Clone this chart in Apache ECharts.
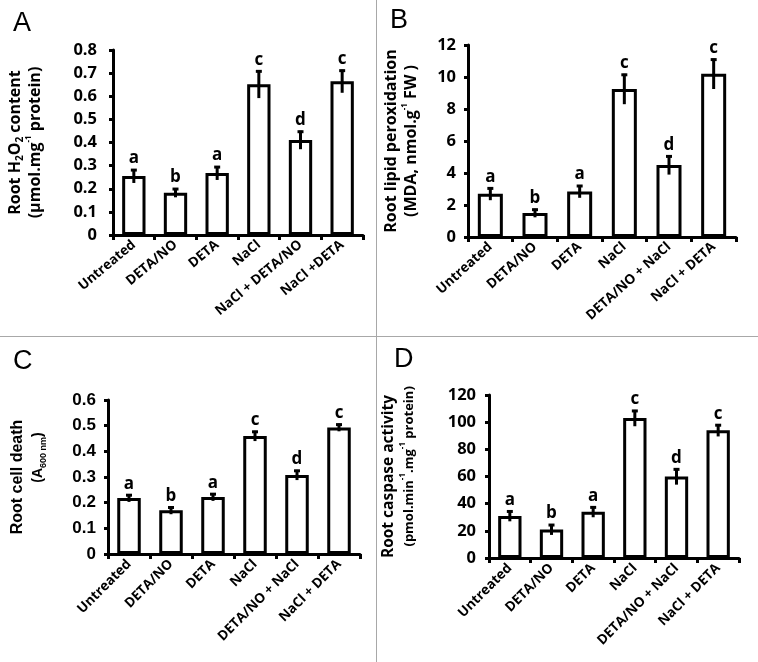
<!DOCTYPE html>
<html><head><meta charset="utf-8">
<script src="https://cdn.jsdelivr.net/npm/echarts@6/dist/echarts.min.js"></script>
<style>html,body{margin:0;padding:0;background:#fff}#c{width:758px;height:662px}</style>
</head><body><div id="c"></div>
<script>
const catsA = ['Untreated','DETA/NO','DETA','NaCl','NaCl + DETA/NO','NaCl +DETA'];
const catsB = ['Untreated','DETA/NO','DETA','NaCl','DETA/NO + NaCl','NaCl + DETA'];
const catsC = ['Untreated','DETA/NO','DETA','NaCl','DETA/NO + NaCl','NaCl + DETA'];
const catsD = ['Untreated','DETA/NO','DETA','NaCl','DETA/NO + NaCl','NaCl + DETA'];
const valA = [0.255, 0.183, 0.268, 0.652, 0.411, 0.665];
const errA = [0.03, 0.02, 0.03, 0.06, 0.04, 0.05];
const valB = [2.7, 1.5, 2.85, 9.25, 4.5, 10.2];
const errB = [0.4, 0.27, 0.4, 0.95, 0.6, 0.95];
const valC = [0.218, 0.17, 0.222, 0.46, 0.308, 0.493];
const errC = [0.015, 0.015, 0.015, 0.02, 0.02, 0.015];
const valD = [31, 21, 34, 103, 60, 94];
const errD = [4, 4, 4, 6, 6, 4.5];
const letters = ['a','b','a','c','d','c'];
const yA = {max:0.8, interval:0.1};
const yB = {max:12, interval:2};
const yC = {max:0.6, interval:0.1};
const yD = {max:120, interval:20};

const FONT = '"Open Sans", "Noto Sans", sans-serif';
const ARIAL = '"Liberation Sans", Arial, sans-serif';
const chart = echarts.init(document.getElementById('c'));

const grids = [
  {left:113, top:50, width:250, height:185},
  {left:468, top:45, width:268, height:192},
  {left:108, top:400, width:252, height:154},
  {left:489, top:395, width:250, height:163}
];
const cats = [catsA, catsB, catsC, catsD];
const vals = [valA, valB, valC, valD];
const errs = [errA, errB, errC, errD];
const ys = [yA, yB, yC, yD];
const names = [
  '{t|Root H}{sub|2}{t|O}{sub|2}{t| content}\n{t|(µmol.mg}{sup|-1}{t| protein)}',
  '{t|Root lipid peroxidation}\n{t|(MDA, nmol.g}{sup|-1}{t| FW )}',
  '{t|Root cell death}\n{u|          (A}{sub|600 nm}{u|)}',
  '{t|Root caspase activity}\n{u|      (pmol.min}{sup|-1}{u|.mg}{sup|-1}{u| protein)}'
];
const nameGaps = [68, 47, 60, 70];
const titleFont = [FONT, FONT, ARIAL, FONT];
const titleSize = [16, 16, 16, 15.5];
const line2Size = [16, 16, 14, 13];
const subSize = [10, 10, 9, 8];
const tickFont = [FONT, FONT, ARIAL, FONT];
const tickSize = [16.5, 16.5, 17, 16.5];
const tickMargin = [16, 12, 12, 13];
const rotations = [40, 42, 45, 45];

const xAxis = [], yAxis = [], series = [];
for (let g = 0; g < 4; g++) {
  xAxis.push({
    type:'category', gridIndex:g, data:cats[g],
    axisLine:{lineStyle:{color:'#000', width:3}},
    axisTick:{show:true, length:5, lineStyle:{color:'#000', width:3}},
    axisLabel:{rotate:rotations[g], color:'#000', fontWeight:'bold', fontSize:13.5, fontFamily:FONT, margin:8, interval:0}
  });
  const tf = titleFont[g];
  yAxis.push({
    type:'value', gridIndex:g, min:0, max:ys[g].max, interval:ys[g].interval,
    splitLine:{show:false},
    axisLine:{show:true, lineStyle:{color:'#000', width:3}},
    axisTick:{show:true, length:4, lineStyle:{color:'#000', width:3}},
    axisLabel:{color:'#000', fontWeight:'bold', fontSize:tickSize[g], fontFamily:tickFont[g], margin:tickMargin[g]},
    name:names[g], nameLocation:'middle', nameRotate:90, nameGap:nameGaps[g],
    nameTextStyle:{color:'#000', fontWeight:'bold', fontSize:titleSize[g], fontFamily:tf, lineHeight:20, align:'center',
      rich:{
        t:{fontSize:titleSize[g], fontWeight:'bold', fontFamily:tf, color:'#000', lineHeight:20},
        u:{fontSize:line2Size[g], fontWeight:'bold', fontFamily:tf, color:'#000', lineHeight:20},
        sub:{fontSize:subSize[g], fontWeight:'bold', fontFamily:tf, verticalAlign:'bottom', color:'#000', lineHeight:20},
        sup:{fontSize:8, fontWeight:'bold', fontFamily:tf, verticalAlign:'top', color:'#000', lineHeight:14}
      }}
  });
  series.push({
    type:'bar', xAxisIndex:g, yAxisIndex:g, data:vals[g], barWidth:'56%',
    itemStyle:{color:'#fff', borderColor:'#000', borderWidth:3},
    silent:true, animation:false
  });
  const v = vals[g], e = errs[g];
  series.push({
    type:'custom', xAxisIndex:g, yAxisIndex:g, z:5, animation:false, silent:true,
    data:v.map((val,i)=>[i, val, e[i]]),
    renderItem:(params, api)=>{
      const i = api.value(0), val = api.value(1), er = api.value(2);
      const top = api.coord([i, val+er]);
      const bot = api.coord([i, val-er]);
      return {type:'group', children:[
        {type:'line', shape:{x1:top[0], y1:top[1], x2:bot[0], y2:bot[1]}, style:{stroke:'#000', lineWidth:3}},
        {type:'line', shape:{x1:top[0]-3, y1:top[1]+1, x2:top[0]+3, y2:top[1]+1}, style:{stroke:'#000', lineWidth:3}},
        {type:'text', x:top[0], y:top[1]-2, style:{text:letters[params.dataIndex], fill:'#000', font:'bold 17px '+FONT, textAlign:'center', textVerticalAlign:'bottom'}}
      ]};
    }
  });
}

chart.setOption({
  animation:false,
  grid:grids,
  xAxis, yAxis, series,
  graphic:[
    {type:'line', shape:{x1:376.5, y1:0, x2:376.5, y2:662}, style:{stroke:'#a8a8a8', lineWidth:1}},
    {type:'line', shape:{x1:0, y1:336.5, x2:758, y2:336.5}, style:{stroke:'#a8a8a8', lineWidth:1}},
    {type:'text', left:13, top:10, style:{text:'A', font:'27px "Liberation Sans", Arial, sans-serif', fill:'#000'}},
    {type:'text', left:390, top:7, style:{text:'B', font:'27px "Liberation Sans", Arial, sans-serif', fill:'#000'}},
    {type:'text', left:13, top:348, style:{text:'C', font:'27px "Liberation Sans", Arial, sans-serif', fill:'#000'}},
    {type:'text', left:394, top:346, style:{text:'D', font:'27px "Liberation Sans", Arial, sans-serif', fill:'#000'}}
  ]
});
</script></body></html>
